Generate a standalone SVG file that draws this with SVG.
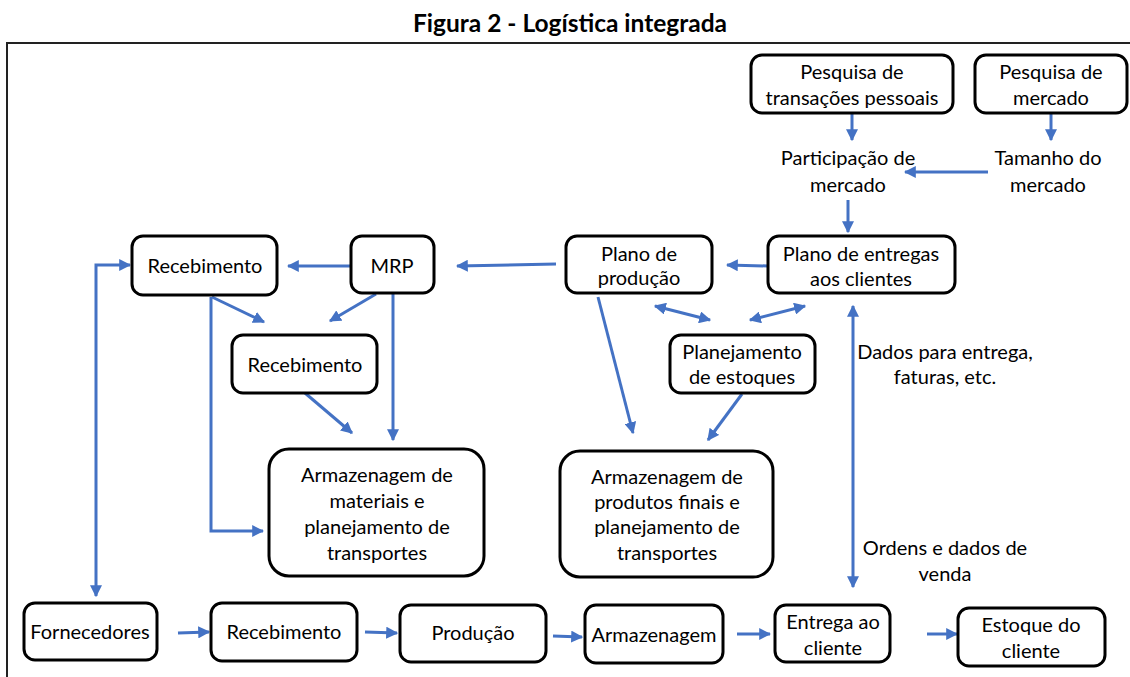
<svg xmlns="http://www.w3.org/2000/svg" width="1130" height="677" viewBox="0 0 1130 677">
  <style>
    .box { fill: #fff; stroke: #000; stroke-width: 3; }
    .lbl { font-family: Lato, "Open Sans", "Liberation Sans", sans-serif; font-size: 20px; fill: #000; text-anchor: middle; }
    .title { font-family: Lato, "Open Sans", "Liberation Sans", sans-serif; font-size: 24.5px; font-weight: bold; fill: #000; text-anchor: middle; }
    .conn { fill: none; stroke: #4472C4; stroke-width: 3; }
    .frame { fill: none; stroke: #222; stroke-width: 2; }
  </style>
  <defs>
    <marker id="arrow" viewBox="0 0 10 10" refX="9" refY="5" markerWidth="4" markerHeight="4" orient="auto-start-reverse" markerUnits="strokeWidth">
      <path d="M0,0 L10,5 L0,10 Z" fill="#4472C4"/>
    </marker>
  </defs>

  <rect width="1130" height="677" fill="#fff"/>

  <!-- title and frame -->
  <text class="title" x="570" y="32">Figura 2 - Logística integrada</text>
  <path class="frame" d="M7,677 V43 H1130"/>

  <!-- connectors -->
  <g id="connectors">
    <line class="conn" x1="852" y1="113" x2="852" y2="140" marker-end="url(#arrow)"/>
    <line class="conn" x1="1051" y1="113" x2="1051" y2="140" marker-end="url(#arrow)"/>
    <line class="conn" x1="988" y1="172" x2="905" y2="172" marker-end="url(#arrow)"/>
    <line class="conn" x1="848" y1="200" x2="848" y2="232" marker-end="url(#arrow)"/>
    <line class="conn" x1="768" y1="266" x2="727" y2="265" marker-end="url(#arrow)"/>
    <line class="conn" x1="556" y1="264" x2="457" y2="266" marker-end="url(#arrow)"/>
    <line class="conn" x1="351" y1="266" x2="288" y2="266" marker-end="url(#arrow)"/>
    <path class="conn" d="M96,596 V265 H130" marker-start="url(#arrow)" marker-end="url(#arrow)"/>
    <line class="conn" x1="212" y1="297" x2="264" y2="322" marker-end="url(#arrow)"/>
    <path class="conn" d="M211,297 V531 H263" marker-end="url(#arrow)"/>
    <line class="conn" x1="376" y1="294" x2="330" y2="321" marker-end="url(#arrow)"/>
    <line class="conn" x1="393" y1="294" x2="393" y2="440" marker-end="url(#arrow)"/>
    <line class="conn" x1="305" y1="393" x2="352" y2="433" marker-end="url(#arrow)"/>
    <line class="conn" x1="598" y1="297" x2="633" y2="433" marker-end="url(#arrow)"/>
    <line class="conn" x1="655" y1="306" x2="710" y2="320" marker-start="url(#arrow)" marker-end="url(#arrow)"/>
    <line class="conn" x1="750" y1="320" x2="805" y2="306" marker-start="url(#arrow)" marker-end="url(#arrow)"/>
    <line class="conn" x1="742" y1="394" x2="708" y2="440" marker-end="url(#arrow)"/>
    <line class="conn" x1="853" y1="306" x2="853" y2="587" marker-start="url(#arrow)" marker-end="url(#arrow)"/>
    <line class="conn" x1="178" y1="633" x2="209" y2="632" marker-end="url(#arrow)"/>
    <line class="conn" x1="365" y1="632" x2="397" y2="633" marker-end="url(#arrow)"/>
    <line class="conn" x1="553" y1="636" x2="582" y2="637" marker-end="url(#arrow)"/>
    <line class="conn" x1="737" y1="634" x2="770" y2="634" marker-end="url(#arrow)"/>
    <line class="conn" x1="927" y1="634" x2="957" y2="634" marker-end="url(#arrow)"/>
  </g>

  <!-- free text labels -->
  <g id="participacao">
    <text class="lbl" x="848" y="165">Participação de</text>
    <text class="lbl" x="848" y="192">mercado</text>
  </g>
  <g id="tamanho">
    <text class="lbl" x="1048" y="165">Tamanho do</text>
    <text class="lbl" x="1048" y="192">mercado</text>
  </g>
  <g id="dados-entrega">
    <text class="lbl" x="945" y="359">Dados para entrega,</text>
    <text class="lbl" x="945" y="384">faturas, etc.</text>
  </g>
  <g id="ordens">
    <text class="lbl" x="945" y="555">Ordens e dados de</text>
    <text class="lbl" x="945" y="581">venda</text>
  </g>

  <!-- nodes -->
  <g id="pesquisa-transacoes">
    <rect class="box" x="751" y="55" width="202" height="58" rx="11"/>
    <text class="lbl" x="852" y="79">Pesquisa de</text>
    <text class="lbl" x="852" y="105">transações pessoais</text>
  </g>
  <g id="pesquisa-mercado">
    <rect class="box" x="975" y="55" width="152" height="58" rx="11"/>
    <text class="lbl" x="1051" y="79">Pesquisa de</text>
    <text class="lbl" x="1051" y="105">mercado</text>
  </g>
  <g id="plano-entregas">
    <rect class="box" x="768" y="236" width="187" height="57" rx="11"/>
    <text class="lbl" x="861" y="261">Plano de entregas</text>
    <text class="lbl" x="861" y="286">aos clientes</text>
  </g>
  <g id="plano-producao">
    <rect class="box" x="566" y="236" width="146" height="57" rx="11"/>
    <text class="lbl" x="639" y="261">Plano de</text>
    <text class="lbl" x="639" y="285">produção</text>
  </g>
  <g id="mrp">
    <rect class="box" x="351" y="236" width="83" height="57" rx="11"/>
    <text class="lbl" x="392" y="273">MRP</text>
  </g>
  <g id="recebimento-1">
    <rect class="box" x="132" y="236" width="145" height="59" rx="11"/>
    <text class="lbl" x="205" y="273">Recebimento</text>
  </g>
  <g id="recebimento-2">
    <rect class="box" x="232" y="335" width="145" height="58" rx="11"/>
    <text class="lbl" x="305" y="372">Recebimento</text>
  </g>
  <g id="planejamento-estoques">
    <rect class="box" x="670" y="335" width="145" height="58" rx="11"/>
    <text class="lbl" x="742" y="359">Planejamento</text>
    <text class="lbl" x="742" y="384">de estoques</text>
  </g>
  <g id="armazenagem-materiais">
    <rect class="box" x="269" y="449" width="215" height="127" rx="20"/>
    <text class="lbl" x="377" y="482">Armazenagem de</text>
    <text class="lbl" x="377" y="508">materiais e</text>
    <text class="lbl" x="377" y="534">planejamento de</text>
    <text class="lbl" x="377" y="560">transportes</text>
  </g>
  <g id="armazenagem-produtos">
    <rect class="box" x="560" y="451" width="213" height="126" rx="20"/>
    <text class="lbl" x="667" y="484">Armazenagem de</text>
    <text class="lbl" x="667" y="509">produtos finais e</text>
    <text class="lbl" x="667" y="534">planejamento de</text>
    <text class="lbl" x="667" y="560">transportes</text>
  </g>
  <g id="fornecedores">
    <rect class="box" x="24" y="603" width="133" height="57" rx="11"/>
    <text class="lbl" x="90" y="639">Fornecedores</text>
  </g>
  <g id="recebimento-3">
    <rect class="box" x="211" y="603" width="146" height="58" rx="11"/>
    <text class="lbl" x="284" y="639">Recebimento</text>
  </g>
  <g id="producao">
    <rect class="box" x="400" y="605" width="146" height="57" rx="11"/>
    <text class="lbl" x="473" y="640">Produção</text>
  </g>
  <g id="armazenagem">
    <rect class="box" x="585" y="605" width="138" height="58" rx="11"/>
    <text class="lbl" x="654" y="642">Armazenagem</text>
  </g>
  <g id="entrega-cliente">
    <rect class="box" x="775" y="605" width="115" height="57" rx="11"/>
    <text class="lbl" x="833" y="629">Entrega ao</text>
    <text class="lbl" x="833" y="655">cliente</text>
  </g>
  <g id="estoque-cliente">
    <rect class="box" x="958" y="608" width="147" height="58" rx="11"/>
    <text class="lbl" x="1031" y="632">Estoque do</text>
    <text class="lbl" x="1031" y="658">cliente</text>
  </g>
</svg>
